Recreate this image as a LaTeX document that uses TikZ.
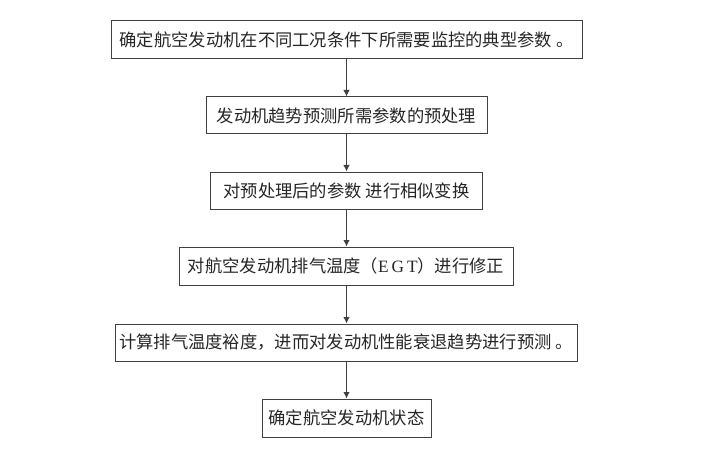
\documentclass[tikz,border=0pt]{standalone}
\usepackage{fontspec}
\setmainfont{Noto Sans CJK SC}
\newfontfamily\latinserif{Liberation Serif}
\usetikzlibrary{arrows.meta}
\definecolor{linegray}{HTML}{404040}
\begin{document}
\begin{tikzpicture}[x=1pt,y=-1pt,
  flowbox/.style={draw=linegray,line width=1pt,rectangle,inner sep=0pt,
    font=\fontsize{17.3}{20}\selectfont,text=black!85,anchor=center},
  flowarrow/.style={draw=linegray,line width=1pt,-{Latex[length=6.5pt,width=6.5pt]}}]
\useasboundingbox (0,0) rectangle (703,449);
\node[flowbox,minimum width=471pt,minimum height=38pt] (b1) at (346.5,40) {确定航空发动机在不同工况条件下所需要监控的典型参数 。};
\node[flowbox,minimum width=281pt,minimum height=37pt] (b2) at (346.5,115.5) {发动机趋势预测所需参数的预处理};
\node[flowbox,minimum width=272pt,minimum height=37pt] (b3) at (346.5,190.5) {对预处理后的参数 进行相似变换};
\node[flowbox,minimum width=334pt,minimum height=38pt] (b4) at (346,266) {对航空发动机排气温度（{\latinserif E\,G\,T}）进行修正};
\node[flowbox,minimum width=462pt,minimum height=37pt] (b5) at (346,342.5) {计算排气温度裕度，进而对发动机性能衰退趋势进行预测 。};
\node[flowbox,minimum width=169pt,minimum height=38pt] (b6) at (346.5,418) {确定航空发动机状态};
\draw[flowarrow] (b1.south -| 346.5,0) -- (b2.north -| 346.5,0);
\draw[flowarrow] (b2.south -| 346.5,0) -- (b3.north -| 346.5,0);
\draw[flowarrow] (b3.south -| 346.5,0) -- (b4.north -| 346.5,0);
\draw[flowarrow] (b4.south -| 346.5,0) -- (b5.north -| 346.5,0);
\draw[flowarrow] (b5.south -| 346.5,0) -- (b6.north -| 346.5,0);
\end{tikzpicture}
\end{document}
